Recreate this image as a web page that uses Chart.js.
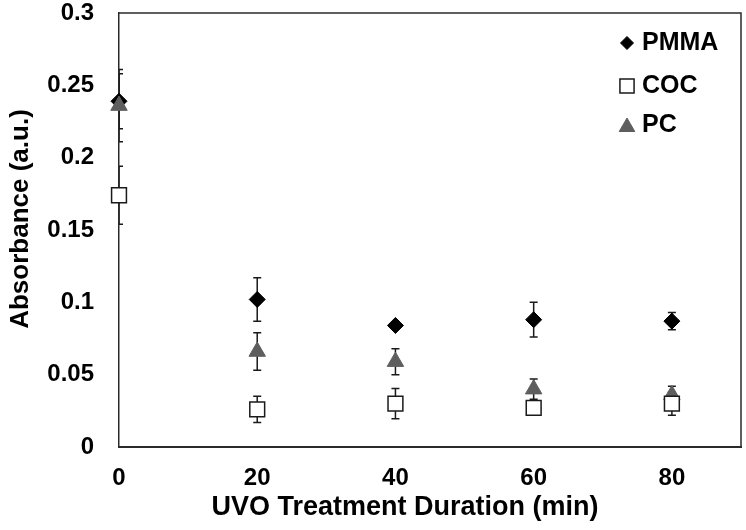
<!DOCTYPE html>
<html>
<head>
<meta charset="utf-8">
<script src="https://cdn.jsdelivr.net/npm/chart.js@4/dist/chart.umd.min.js"></script>
<style>
  html, body { margin: 0; padding: 0; background: #fff; }
  #wrap { width: 746px; height: 530px; }
</style>
</head>
<body>
<div id="wrap"><canvas id="c" width="746" height="530"></canvas></div>
<script>
// ---- data ----
const durations = [0, 20, 40, 60, 80];
const seriesNames = ['PMMA', 'COC', 'PC'];
const pmmaValues = [0.239, 0.102, 0.084, 0.088, 0.087];
const pmmaErrors = [0.019, 0.015, 0.002, 0.012, 0.006];
const cocValues  = [0.174, 0.026, 0.030, 0.027, 0.030];
const cocErrors  = [0.020, 0.009, 0.0105, 0.002, 0.008];
const pcValues   = [0.236, 0.066, 0.059, 0.040, 0.036];
const pcErrors   = [0.025, 0.013, 0.009, 0.007, 0.006];
const xTickLabels = ['0', '20', '40', '60', '80'];
const yTickLabels = ['0', '0.05', '0.1', '0.15', '0.2', '0.25', '0.3'];
const xTitle = 'UVO Treatment Duration (min)';
const yTitle = 'Absorbance (a.u.)';

const errorsBySeries = [pmmaErrors, cocErrors, pcErrors];
const FONT = '"Liberation Sans", Arial, sans-serif';

function pts(vals) { return durations.map((d, i) => ({ x: d, y: vals[i] })); }

const errorBarPlugin = {
  id: 'errorBars',
  beforeDatasetsDraw(chart) {
    const ctx = chart.ctx, xs = chart.scales.x, ys = chart.scales.y, a = chart.chartArea;
    ctx.save();
    ctx.beginPath();
    ctx.rect(a.left, a.top - 20, a.right - a.left, a.bottom - a.top + 40);
    ctx.clip();
    ctx.strokeStyle = '#1a1a1a';
    ctx.lineWidth = 1.5;
    chart.data.datasets.forEach((ds, di) => {
      const errs = errorsBySeries[di];
      ds.data.forEach((p, i) => {
        const e = errs[i];
        if (!e) return;
        const px = xs.getPixelForValue(p.x);
        const yTop = ys.getPixelForValue(p.y + e);
        const yBot = ys.getPixelForValue(p.y - e);
        ctx.beginPath();
        ctx.moveTo(px, yTop); ctx.lineTo(px, yBot);
        ctx.moveTo(px - 4, yTop); ctx.lineTo(px + 4, yTop);
        ctx.moveTo(px - 4, yBot); ctx.lineTo(px + 4, yBot);
        ctx.stroke();
      });
    });
    ctx.restore();
  }
};

const frameAndLegendPlugin = {
  id: 'frameLegend',
  afterDraw(chart) {
    const ctx = chart.ctx, a = chart.chartArea;
    ctx.save();
    ctx.strokeStyle = '#2a2a2a';
    ctx.lineWidth = 1.5;
    ctx.beginPath();
    ctx.moveTo(a.left, a.top); ctx.lineTo(a.right, a.top); ctx.lineTo(a.right, a.bottom);
    ctx.stroke();
    ctx.lineWidth = 2;
    ctx.beginPath();
    ctx.moveTo(a.left, a.bottom); ctx.lineTo(a.right, a.bottom);
    ctx.stroke();
    // axis titles
    ctx.fillStyle = '#000';
    ctx.textBaseline = 'middle';
    ctx.textAlign = 'center';
    ctx.font = 'bold 27px ' + FONT;
    ctx.fillText(xTitle, 405, 508);
    ctx.save();
    ctx.translate(21, 219);
    ctx.rotate(-Math.PI / 2);
    ctx.font = 'bold 26px ' + FONT;
    ctx.fillText(yTitle, 0, 0);
    ctx.restore();
    // legend
    const items = [
      { ds: chart.data.datasets[0], y: 43 },
      { ds: chart.data.datasets[1], y: 86 },
      { ds: chart.data.datasets[2], y: 125 }
    ];
    items.forEach(it => {
      const ds = it.ds;
      ctx.fillStyle = ds.pointBackgroundColor;
      ctx.strokeStyle = ds.pointBorderColor;
      ctx.lineWidth = ds.pointBorderWidth;
      Chart.helpers.drawPoint(ctx, {
        pointStyle: ds.pointStyle,
        radius: ds.legendRadius,
        rotation: 0,
        borderWidth: ds.pointBorderWidth
      }, 627, it.y + (ds.pointStyle === 'triangle' ? 2 : 0));
      ctx.fillStyle = '#000';
      ctx.font = 'bold 25px ' + FONT;
      ctx.textBaseline = 'middle';
      ctx.textAlign = 'left';
      ctx.fillText(ds.label, 642, it.y);
    });
    ctx.restore();
  }
};

new Chart(document.getElementById('c'), {
  type: 'scatter',
  data: {
    datasets: [
      {
        label: seriesNames[0], data: pts(pmmaValues), order: 3, clip: false,
        pointStyle: 'rectRot', pointRadius: 8, pointHoverRadius: 8, legendRadius: 6.5,
        pointBackgroundColor: '#000', pointBorderColor: '#000', pointBorderWidth: 1
      },
      {
        label: seriesNames[1], data: pts(cocValues), order: 1, clip: false,
        pointStyle: 'rect', pointRadius: 10.5, pointHoverRadius: 10.5, legendRadius: 10,
        pointBackgroundColor: '#fff', pointBorderColor: '#1a1a1a', pointBorderWidth: 1.5
      },
      {
        label: seriesNames[2], data: pts(pcValues), order: 2, clip: false,
        pointStyle: 'triangle', pointRadius: 9.5, pointHoverRadius: 9.5, legendRadius: 9,
        pointBackgroundColor: '#5e5e5e', pointBorderColor: '#5e5e5e', pointBorderWidth: 1
      }
    ]
  },
  options: {
    responsive: false,
    animation: false,
    events: [],
    layout: { autoPadding: false, padding: { top: 13, right: 5, left: 0, bottom: 0 } },
    plugins: { legend: { display: false }, tooltip: { enabled: false } },
    scales: {
      x: {
        type: 'linear', min: 0, max: 90,
        afterFit(s) { s.height = 83; s.paddingLeft = 0; s.paddingRight = 0; },
        afterBuildTicks(s) {
          s.ticks = xTickLabels.map(t => ({ value: Number(t) }));
        },
        ticks: {
          stepSize: 20, padding: 17, color: '#000',
          font: { family: FONT, size: 24, weight: 'bold' },
          callback: (v) => String(v)
        },
        grid: { display: false, drawTicks: false },
        border: { display: true, color: '#2a2a2a', width: 2 },
        title: { display: false, text: xTitle }
      },
      y: {
        type: 'linear', min: 0, max: 0.3,
        afterFit(s) { s.width = 119; s.paddingTop = 0; s.paddingBottom = 0; },
        afterBuildTicks(s) {
          s.ticks = yTickLabels.map(t => ({ value: Number(t) }));
        },
        ticks: {
          stepSize: 0.05, padding: 25, color: '#000',
          font: { family: FONT, size: 24, weight: 'bold' },
          callback: (v) => yTickLabels.find(t => Math.abs(Number(t) - v) < 1e-9) || ''
        },
        grid: { display: false, drawTicks: false },
        border: { display: true, color: '#2a2a2a', width: 1.5 },
        title: { display: false, text: yTitle }
      }
    }
  },
  plugins: [errorBarPlugin, frameAndLegendPlugin]
});
</script>
</body>
</html>
